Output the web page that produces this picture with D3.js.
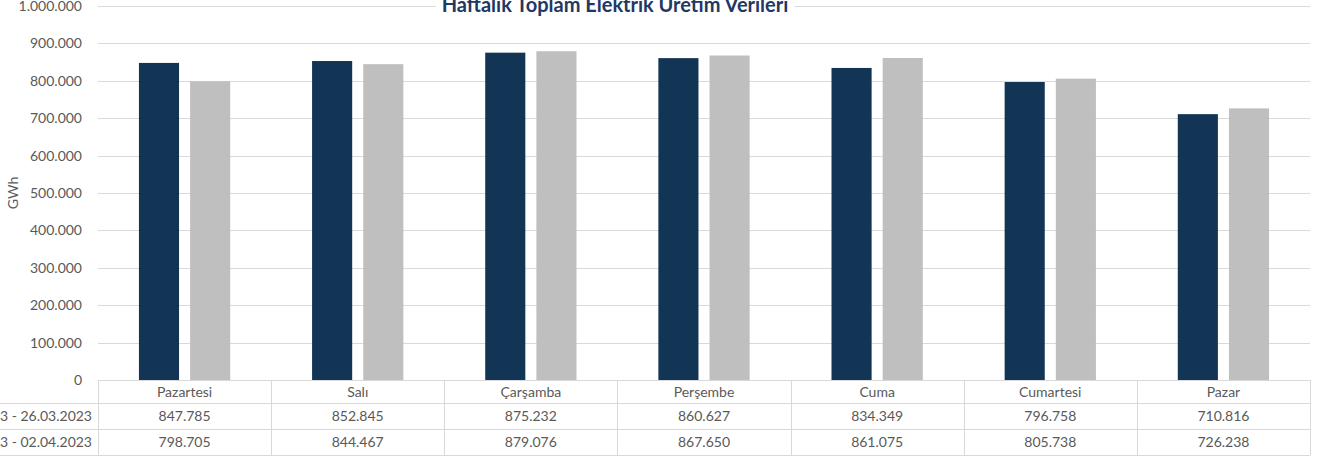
<!DOCTYPE html>
<html>
<head>
<meta charset="utf-8">
<script src="https://cdn.jsdelivr.net/npm/d3@7"></script>
<style>
  body { margin: 0; background: #fff; }
  text { font-family: Lato, "Open Sans", sans-serif; }
</style>
</head>
<body>
<div id="chart-area"></div>
<script>
const days = ['Pazartesi', 'Salı', 'Çarşamba', 'Perşembe', 'Cuma', 'Cumartesi', 'Pazar'];
const weekNames = ['20.03.2023 - 26.03.2023', '27.03.2023 - 02.04.2023'];
const week1 = [847785, 852845, 875232, 860627, 834349, 796758, 710816];
const week2 = [798705, 844467, 879076, 867650, 861075, 805738, 726238];
const yTicks = [0, 100000, 200000, 300000, 400000, 500000, 600000, 700000, 800000, 900000, 1000000];
const title = 'Haftalık Toplam Elektrik Üretim Verileri';

const series = [week1, week2];
const colors = ['#123556', '#bfbfbf'];

const W = 1323, H = 461;
const plotLeft = 98, plotRight = 1310, plotTop = 6, plotBottom = 380;
const rowH = 26;

const trLocale = d3.formatLocale({ decimal: ',', thousands: '.', grouping: [3], currency: ['', ' TL'] });
const fmt = trLocale.format(',d');

const svg = d3.select('#chart-area')
  .append('svg')
  .attr('width', W)
  .attr('height', H);

const x0 = d3.scaleBand()
  .domain(days)
  .range([plotLeft, plotRight])
  .paddingInner(0)
  .paddingOuter(0);

const x1 = d3.scaleBand()
  .domain([0, 1])
  .range([0, x0.bandwidth()])
  .paddingInner(0.216)
  .paddingOuter(0.8);

const y = d3.scaleLinear()
  .domain([0, 1000000])
  .range([plotBottom, plotTop]);

// gridlines
svg.append('g')
  .selectAll('line')
  .data(yTicks)
  .enter()
  .append('line')
  .attr('x1', plotLeft)
  .attr('x2', plotRight)
  .attr('y1', (d) => Math.round(y(d)) + 0.5)
  .attr('y2', (d) => Math.round(y(d)) + 0.5)
  .attr('stroke', '#d9d9d9')
  .attr('stroke-width', 1);

// y axis labels
const yAxis = d3.axisLeft(y).tickValues(yTicks).tickFormat(fmt).tickSize(0).tickPadding(16);
const yg = svg.append('g')
  .attr('transform', 'translate(' + plotLeft + ',0)')
  .call(yAxis);
yg.select('.domain').remove();
yg.selectAll('text')
  .attr('fill', '#595959')
  .attr('font-size', '14px')
  .attr('font-family', 'Lato, "Open Sans", sans-serif');

// y title
svg.append('text')
  .attr('transform', 'translate(18,' + ((plotTop + plotBottom) / 2) + ') rotate(-90)')
  .attr('text-anchor', 'middle')
  .attr('fill', '#595959')
  .attr('font-size', '14px')
  .text('GWh');

// bars
const groups = svg.append('g')
  .selectAll('g')
  .data(days)
  .enter()
  .append('g')
  .attr('transform', (d) => 'translate(' + x0(d) + ',0)');

groups.selectAll('rect')
  .data((d, i) => series.map((s, k) => ({ k: k, v: s[i] })))
  .enter()
  .append('rect')
  .attr('x', (d) => x1(d.k))
  .attr('width', x1.bandwidth())
  .attr('y', (d) => y(d.v))
  .attr('height', (d) => y(0) - y(d.v))
  .attr('fill', (d) => colors[d.k]);

// title
const titleBg = svg.append('rect').attr('fill', '#fff');
const titleText = svg.append('text')
  .attr('x', 615)
  .attr('y', 12)
  .attr('text-anchor', 'middle')
  .attr('font-size', '20px')
  .attr('font-weight', 'bold')
  .attr('fill', '#1f3864')
  .text(title);
const tb = titleText.node().getBBox();
titleBg
  .attr('x', tb.x - 6)
  .attr('y', 0)
  .attr('width', tb.width + 12)
  .attr('height', 14);

// data table
const table = svg.append('g');
const lineCol = '#d9d9d9';
const rows = [plotBottom, plotBottom + 23, plotBottom + 23 + rowH, plotBottom + 23 + 2 * rowH];

table.append('line')
  .attr('x1', plotLeft).attr('x2', plotRight)
  .attr('y1', rows[0] + 0.5).attr('y2', rows[0] + 0.5)
  .attr('stroke', lineCol);
rows.slice(1).forEach((r) => {
  table.append('line')
    .attr('x1', 0).attr('x2', plotRight)
    .attr('y1', r + 0.5).attr('y2', r + 0.5)
    .attr('stroke', lineCol);
});

const vx = days.map((d) => x0(d)).concat([plotRight]);
table.selectAll('.vline')
  .data(vx)
  .enter()
  .append('line')
  .attr('class', 'vline')
  .attr('x1', (d) => Math.round(d) + 0.5)
  .attr('x2', (d) => Math.round(d) + 0.5)
  .attr('y1', rows[0])
  .attr('y2', rows[3])
  .attr('stroke', lineCol);

table.selectAll('.hdr')
  .data(days)
  .enter()
  .append('text')
  .attr('class', 'hdr')
  .attr('x', (d) => x0(d) + x0.bandwidth() / 2)
  .attr('y', rows[0] + 17)
  .attr('text-anchor', 'middle')
  .attr('fill', '#595959')
  .attr('font-size', '14px')
  .text((d) => d);

series.forEach((s, k) => {
  table.append('text')
    .attr('x', plotLeft - 6)
    .attr('y', rows[k + 1] + 18)
    .attr('text-anchor', 'end')
    .attr('fill', '#595959')
    .attr('font-size', '14px')
    .text(weekNames[k]);

  table.selectAll('.val' + k)
    .data(s)
    .enter()
    .append('text')
    .attr('class', 'val' + k)
    .attr('x', (d, i) => x0(days[i]) + x0.bandwidth() / 2)
    .attr('y', rows[k + 1] + 18)
    .attr('text-anchor', 'middle')
    .attr('fill', '#595959')
    .attr('font-size', '14px')
    .text((d) => fmt(d));
});
</script>
</body>
</html>
